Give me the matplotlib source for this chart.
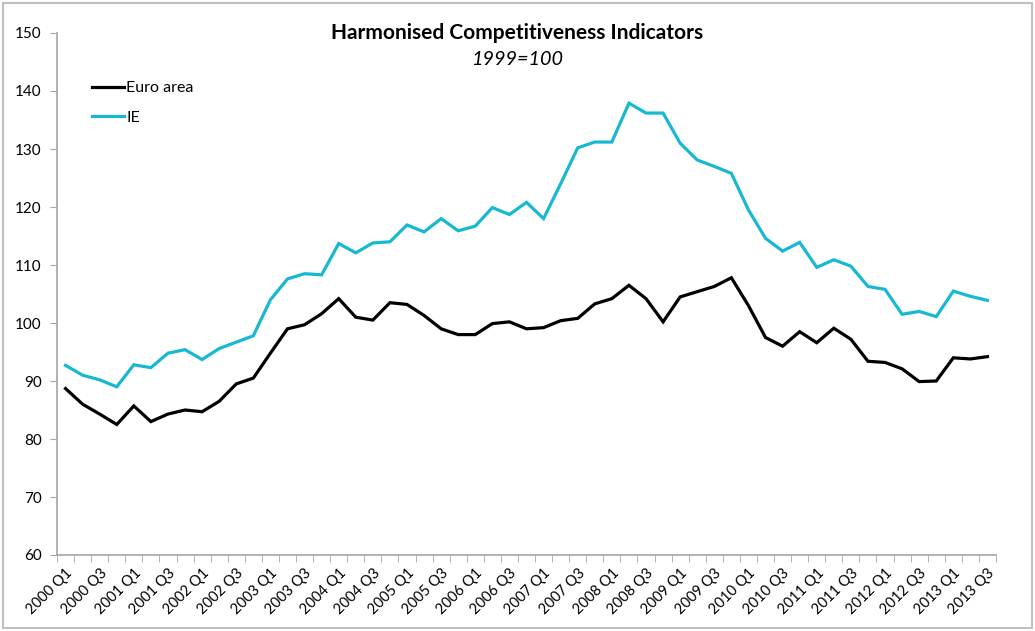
import matplotlib
matplotlib.use('Agg')
import matplotlib.pyplot as plt
from matplotlib.patches import Rectangle

plt.rcParams['font.family'] = ['Lato', 'DejaVu Sans']

quarters = [f'{y} Q{q}' for y in range(2000, 2014) for q in range(1, 5)][:55]

euro_area = [88.7, 86.0, 84.3, 82.5, 85.7, 83.0, 84.3, 85.0, 84.7, 86.5, 89.5, 90.5,
             94.8, 99.0, 99.7, 101.6, 104.2, 101.0, 100.5, 103.5, 103.2, 101.3, 99.0, 98.0,
             98.0, 99.9, 100.2, 99.0, 99.2, 100.4, 100.8, 103.3, 104.2, 106.5, 104.2, 100.2,
             104.5, 105.4, 106.3, 107.8, 103.0, 97.5, 96.0, 98.5, 96.6, 99.1, 97.2, 93.4,
             93.2, 92.1, 89.9, 90.0, 94.0, 93.8, 94.2]

ie = [92.7, 91.0, 90.2, 89.0, 92.8, 92.3, 94.8, 95.4, 93.7, 95.6, 96.7, 97.8,
      104.0, 107.6, 108.5, 108.3, 113.7, 112.1, 113.8, 114.0, 116.9, 115.7, 118.0, 115.9,
      116.7, 119.9, 118.7, 120.8, 118.0, 124.0, 130.2, 131.2, 131.2, 137.9, 136.2, 136.2,
      131.0, 128.1, 127.0, 125.8, 119.5, 114.6, 112.4, 113.9, 109.6, 110.9, 109.8, 106.3,
      105.8, 101.5, 102.0, 101.1, 105.5, 104.6, 103.9]

fig = plt.figure(figsize=(10.35, 6.31), dpi=100)
ax = fig.add_axes([57 / 1035, 1 - 555 / 631, (996 - 57) / 1035, (555 - 33) / 631])

x = range(len(quarters))
ax.plot(x, euro_area, color='black', lw=2.3, label='Euro area', solid_joinstyle='miter')
ax.plot(x, ie, color='#17b8d2', lw=2.3, label='IE', solid_joinstyle='miter')

ax.set_xlim(-0.5, len(quarters) - 0.5)
ax.set_ylim(60, 150)
ax.set_yticks(range(60, 151, 10))

ax.set_xticks(range(0, len(quarters), 2))
ax.set_xticklabels(quarters[::2], rotation=45, ha='right', rotation_mode='anchor')
ax.set_xticks([i - 0.5 for i in range(len(quarters) + 1)], minor=True)
ax.tick_params(axis='x', which='major', length=0, pad=8, labelsize=10.5)
ax.tick_params(axis='x', which='minor', length=5, color='#a6a6a6', direction='out')
ax.tick_params(axis='y', length=5, color='#a6a6a6', labelsize=11, pad=6)

for s in ['top', 'right']:
    ax.spines[s].set_visible(False)
for s in ['left', 'bottom']:
    ax.spines[s].set_color('#a6a6a6')
    ax.spines[s].set_linewidth(1.2)

ax.legend(loc='upper left', bbox_to_anchor=(0.022, 0.935), frameon=False,
          handlelength=2.0, handletextpad=0.15, labelspacing=0.95, fontsize=11.5)

fig.text(0.5, 0.948, 'Harmonised Competitiveness Indicators', ha='center', va='center',
         fontsize=15, fontweight='bold')
fig.text(0.5, 0.905, '1999=100', ha='center', va='center', fontsize=14.3, style='italic')

fig.patches.append(Rectangle((0.003, 0.005), 0.994, 0.99, transform=fig.transFigure,
                             fill=False, edgecolor='#c0c0c0', lw=1.5))

fig.savefig('out.png', dpi=100)
